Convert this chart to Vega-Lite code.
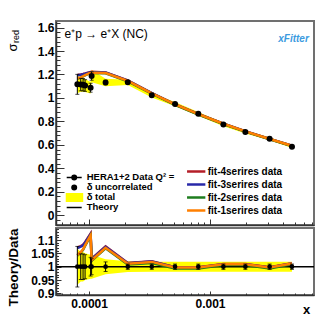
{
  "$schema": "https://vega.github.io/schema/vega-lite/v6.json",
  "padding": {"left": 5, "top": 15, "right": 0, "bottom": 0},
  "config": {
    "font": "Liberation Sans",
    "view": {"stroke": "#707070", "strokeWidth": 2},
    "axis": {"domainColor": "#333333", "domainWidth": 1.5, "tickColor": "#333333", "tickWidth": 1, "labelFont": "Liberation Sans", "labelFontWeight": "bold", "labelFontSize": 12, "labelColor": "black", "grid": false, "titleFont": "Liberation Sans", "titleColor": "black", "labelOverlap": false, "labelFlush": false, "labelBound": false},
    "legend": {"labelFont": "Liberation Sans", "labelColor": "black", "labelFontWeight": "bold"}
  },
  "datasets": {
    "pts": [
      {"x": 8.0e-5, "sigma": 1.116, "unc_lo": 1.031, "unc_hi": 1.201, "tot_lo": 1.040, "tot_hi": 1.192, "r_unc_lo": 0.924, "r_unc_hi": 1.076, "r_tot_lo": 0.932, "r_tot_hi": 1.068},
      {"x": 8.54e-5, "sigma": 1.114, "unc_lo": 1.061, "unc_hi": 1.167, "tot_lo": 1.053, "tot_hi": 1.175, "r_unc_lo": 0.952, "r_unc_hi": 1.048, "r_tot_lo": 0.945, "r_tot_hi": 1.055},
      {"x": 8.92e-5, "sigma": 1.113, "unc_lo": 1.060, "unc_hi": 1.166, "tot_lo": 1.052, "tot_hi": 1.174, "r_unc_lo": 0.952, "r_unc_hi": 1.048, "r_tot_lo": 0.945, "r_tot_hi": 1.055},
      {"x": 9.27e-5, "sigma": 1.106, "unc_lo": 1.056, "unc_hi": 1.156, "tot_lo": 1.051, "tot_hi": 1.161, "r_unc_lo": 0.955, "r_unc_hi": 1.045, "r_tot_lo": 0.950, "r_tot_hi": 1.050},
      {"x": 1.03e-4, "sigma": 1.087, "unc_lo": 1.049, "unc_hi": 1.125, "tot_lo": 1.038, "tot_hi": 1.136, "r_unc_lo": 0.965, "r_unc_hi": 1.035, "r_tot_lo": 0.955, "r_tot_hi": 1.045},
      {"x": 1.05e-4, "sigma": 1.187, "unc_lo": 1.151, "unc_hi": 1.223, "tot_lo": 1.134, "tot_hi": 1.240, "r_unc_lo": 0.970, "r_unc_hi": 1.030, "r_tot_lo": 0.955, "r_tot_hi": 1.045},
      {"x": 1.37e-4, "sigma": 1.132, "unc_lo": 1.112, "unc_hi": 1.152, "tot_lo": 1.100, "tot_hi": 1.164, "r_unc_lo": 0.982, "r_unc_hi": 1.018, "r_tot_lo": 0.972, "r_tot_hi": 1.028},
      {"x": 2.09e-4, "sigma": 1.133, "unc_lo": 1.122, "unc_hi": 1.144, "tot_lo": 1.110, "tot_hi": 1.156, "r_unc_lo": 0.990, "r_unc_hi": 1.010, "r_tot_lo": 0.980, "r_tot_hi": 1.020},
      {"x": 3.30e-4, "sigma": 1.022, "unc_lo": 1.012, "unc_hi": 1.032, "tot_lo": 1.003, "tot_hi": 1.041, "r_unc_lo": 0.990, "r_unc_hi": 1.010, "r_tot_lo": 0.981, "r_tot_hi": 1.019},
      {"x": 5.14e-4, "sigma": 0.948, "unc_lo": 0.939, "unc_hi": 0.957, "tot_lo": 0.930, "tot_hi": 0.966, "r_unc_lo": 0.990, "r_unc_hi": 1.010, "r_tot_lo": 0.981, "r_tot_hi": 1.019},
      {"x": 8.0e-4, "sigma": 0.865, "unc_lo": 0.856, "unc_hi": 0.874, "tot_lo": 0.849, "tot_hi": 0.881, "r_unc_lo": 0.990, "r_unc_hi": 1.010, "r_tot_lo": 0.981, "r_tot_hi": 1.019},
      {"x": 1.29e-3, "sigma": 0.773, "unc_lo": 0.765, "unc_hi": 0.781, "tot_lo": 0.758, "tot_hi": 0.788, "r_unc_lo": 0.990, "r_unc_hi": 1.010, "r_tot_lo": 0.981, "r_tot_hi": 1.019},
      {"x": 1.96e-3, "sigma": 0.709, "unc_lo": 0.702, "unc_hi": 0.716, "tot_lo": 0.696, "tot_hi": 0.722, "r_unc_lo": 0.990, "r_unc_hi": 1.010, "r_tot_lo": 0.981, "r_tot_hi": 1.019},
      {"x": 3.11e-3, "sigma": 0.652, "unc_lo": 0.645, "unc_hi": 0.659, "tot_lo": 0.640, "tot_hi": 0.664, "r_unc_lo": 0.990, "r_unc_hi": 1.010, "r_tot_lo": 0.981, "r_tot_hi": 1.019},
      {"x": 4.76e-3, "sigma": 0.585, "unc_lo": 0.579, "unc_hi": 0.591, "tot_lo": 0.574, "tot_hi": 0.596, "r_unc_lo": 0.990, "r_unc_hi": 1.010, "r_tot_lo": 0.981, "r_tot_hi": 1.019}
    ],
    "fits": [
      {"fit": "fit-4serires data", "x": 8.0e-5, "theory": 1.196, "ratio": 1.072},
      {"fit": "fit-4serires data", "x": 8.54e-5, "theory": 1.200, "ratio": 1.077},
      {"fit": "fit-4serires data", "x": 8.92e-5, "theory": 1.204, "ratio": 1.082},
      {"fit": "fit-4serires data", "x": 9.27e-5, "theory": 1.208, "ratio": 1.092},
      {"fit": "fit-4serires data", "x": 1.03e-4, "theory": 1.222, "ratio": 1.124},
      {"fit": "fit-4serires data", "x": 1.05e-4, "theory": 1.223, "ratio": 1.030},
      {"fit": "fit-4serires data", "x": 1.37e-4, "theory": 1.218, "ratio": 1.076},
      {"fit": "fit-4serires data", "x": 2.09e-4, "theory": 1.149, "ratio": 1.014},
      {"fit": "fit-4serires data", "x": 3.30e-4, "theory": 1.042, "ratio": 1.020},
      {"fit": "fit-4serires data", "x": 5.14e-4, "theory": 0.946, "ratio": 0.998},
      {"fit": "fit-4serires data", "x": 8.0e-4, "theory": 0.863, "ratio": 0.998},
      {"fit": "fit-4serires data", "x": 1.29e-3, "theory": 0.781, "ratio": 1.010},
      {"fit": "fit-4serires data", "x": 1.96e-3, "theory": 0.716, "ratio": 1.010},
      {"fit": "fit-4serires data", "x": 3.11e-3, "theory": 0.651, "ratio": 0.998},
      {"fit": "fit-4serires data", "x": 4.76e-3, "theory": 0.593, "ratio": 1.013},
      {"fit": "fit-3serires data", "x": 8.0e-5, "theory": 1.194, "ratio": 1.070},
      {"fit": "fit-3serires data", "x": 8.54e-5, "theory": 1.198, "ratio": 1.075},
      {"fit": "fit-3serires data", "x": 8.92e-5, "theory": 1.202, "ratio": 1.080},
      {"fit": "fit-3serires data", "x": 9.27e-5, "theory": 1.206, "ratio": 1.090},
      {"fit": "fit-3serires data", "x": 1.03e-4, "theory": 1.220, "ratio": 1.122},
      {"fit": "fit-3serires data", "x": 1.05e-4, "theory": 1.220, "ratio": 1.028},
      {"fit": "fit-3serires data", "x": 1.37e-4, "theory": 1.216, "ratio": 1.074},
      {"fit": "fit-3serires data", "x": 2.09e-4, "theory": 1.148, "ratio": 1.013},
      {"fit": "fit-3serires data", "x": 3.30e-4, "theory": 1.041, "ratio": 1.019},
      {"fit": "fit-3serires data", "x": 5.14e-4, "theory": 0.946, "ratio": 0.998},
      {"fit": "fit-3serires data", "x": 8.0e-4, "theory": 0.862, "ratio": 0.997},
      {"fit": "fit-3serires data", "x": 1.29e-3, "theory": 0.780, "ratio": 1.009},
      {"fit": "fit-3serires data", "x": 1.96e-3, "theory": 0.715, "ratio": 1.009},
      {"fit": "fit-3serires data", "x": 3.11e-3, "theory": 0.650, "ratio": 0.997},
      {"fit": "fit-3serires data", "x": 4.76e-3, "theory": 0.592, "ratio": 1.012},
      {"fit": "fit-2serires data", "x": 8.0e-5, "theory": 1.163, "ratio": 1.042},
      {"fit": "fit-2serires data", "x": 8.54e-5, "theory": 1.173, "ratio": 1.053},
      {"fit": "fit-2serires data", "x": 8.92e-5, "theory": 1.183, "ratio": 1.063},
      {"fit": "fit-2serires data", "x": 9.27e-5, "theory": 1.192, "ratio": 1.078},
      {"fit": "fit-2serires data", "x": 1.03e-4, "theory": 1.213, "ratio": 1.116},
      {"fit": "fit-2serires data", "x": 1.05e-4, "theory": 1.213, "ratio": 1.022},
      {"fit": "fit-2serires data", "x": 1.37e-4, "theory": 1.210, "ratio": 1.069},
      {"fit": "fit-2serires data", "x": 2.09e-4, "theory": 1.142, "ratio": 1.008},
      {"fit": "fit-2serires data", "x": 3.30e-4, "theory": 1.036, "ratio": 1.014},
      {"fit": "fit-2serires data", "x": 5.14e-4, "theory": 0.941, "ratio": 0.993},
      {"fit": "fit-2serires data", "x": 8.0e-4, "theory": 0.859, "ratio": 0.993},
      {"fit": "fit-2serires data", "x": 1.29e-3, "theory": 0.778, "ratio": 1.006},
      {"fit": "fit-2serires data", "x": 1.96e-3, "theory": 0.713, "ratio": 1.006},
      {"fit": "fit-2serires data", "x": 3.11e-3, "theory": 0.647, "ratio": 0.993},
      {"fit": "fit-2serires data", "x": 4.76e-3, "theory": 0.590, "ratio": 1.009},
      {"fit": "fit-1serires data", "x": 8.0e-5, "theory": 1.165, "ratio": 1.044},
      {"fit": "fit-1serires data", "x": 8.54e-5, "theory": 1.175, "ratio": 1.055},
      {"fit": "fit-1serires data", "x": 8.92e-5, "theory": 1.185, "ratio": 1.065},
      {"fit": "fit-1serires data", "x": 9.27e-5, "theory": 1.194, "ratio": 1.080},
      {"fit": "fit-1serires data", "x": 1.03e-4, "theory": 1.215, "ratio": 1.118},
      {"fit": "fit-1serires data", "x": 1.05e-4, "theory": 1.215, "ratio": 1.024},
      {"fit": "fit-1serires data", "x": 1.37e-4, "theory": 1.212, "ratio": 1.071},
      {"fit": "fit-1serires data", "x": 2.09e-4, "theory": 1.145, "ratio": 1.011},
      {"fit": "fit-1serires data", "x": 3.30e-4, "theory": 1.040, "ratio": 1.018},
      {"fit": "fit-1serires data", "x": 5.14e-4, "theory": 0.945, "ratio": 0.997},
      {"fit": "fit-1serires data", "x": 8.0e-4, "theory": 0.862, "ratio": 0.997},
      {"fit": "fit-1serires data", "x": 1.29e-3, "theory": 0.780, "ratio": 1.009},
      {"fit": "fit-1serires data", "x": 1.96e-3, "theory": 0.715, "ratio": 1.009},
      {"fit": "fit-1serires data", "x": 3.11e-3, "theory": 0.650, "ratio": 0.997},
      {"fit": "fit-1serires data", "x": 4.76e-3, "theory": 0.592, "ratio": 1.012}
    ]
  },
  "bounds": "flush",
  "spacing": 3,
  "resolve": {"scale": {"color": "independent", "shape": "independent", "fill": "independent", "stroke": "independent"}, "legend": {"color": "independent", "shape": "independent", "fill": "independent", "stroke": "independent"}},
  "vconcat": [
    {
      "width": 258,
      "height": 204,
      "resolve": {"axis": {"y": "independent"}},
      "encoding": {
        "x": {"field": "x", "type": "quantitative",
          "scale": {"type": "log", "domain": [5.33e-5, 7.24e-3], "nice": false},
          "axis": {"values": [6e-5, 7e-5, 8e-5, 9e-5, 1e-4, 2e-4, 3e-4, 4e-4, 5e-4, 6e-4, 7e-4, 8e-4, 9e-4, 1e-3, 2e-3, 3e-3, 4e-3, 5e-3, 6e-3, 7e-3],
            "labels": false,
            "tickSize": {"condition": {"test": "datum.value == 0.0001 || datum.value == 0.001", "value": -6}, "value": -3},
            "title": "xFitter",
            "titleX": 237, "titleY": -187, "titleAngle": 0, "titleAlign": "center", "titleBaseline": "middle",
            "titleFontSize": 10, "titleFontStyle": "italic", "titleFontWeight": "bold", "titleColor": "#3c9be0"}}
      },
      "layer": [
        {"data": {"name": "pts"}, "mark": {"type": "area", "color": "#ffff00", "opacity": 1},
          "encoding": {
            "y": {"field": "tot_lo", "type": "quantitative",
              "scale": {"domain": [-0.083, 1.656], "nice": false, "zero": false},
              "axis": {"values": [-0.08, -0.04, 0, 0.04, 0.08, 0.12, 0.16, 0.2, 0.24, 0.28, 0.32, 0.36, 0.4, 0.44, 0.48, 0.52, 0.56, 0.6, 0.64, 0.68, 0.72, 0.76, 0.8, 0.84, 0.88, 0.92, 0.96, 1, 1.04, 1.08, 1.12, 1.16, 1.2, 1.24, 1.28, 1.32, 1.36, 1.4, 1.44, 1.48, 1.52, 1.56, 1.6, 1.64],
                "labelExpr": "abs(datum.value*5 - round(datum.value*5)) < 0.01 ? format(datum.value, '~g') : ''",
                "labelOverlap": false,
                "tickSize": {"condition": {"test": "abs(datum.value*5 - round(datum.value*5)) < 0.01", "value": -8}, "value": -4},
                "labelPadding": 10,
                "title": "σ",
                "titleX": -39.7, "titleY": 30, "titleAngle": -90, "titleAlign": "left", "titleBaseline": "alphabetic", "titleFontSize": 13, "titleFontWeight": "normal"}},
            "y2": {"field": "tot_hi"}
          }},
        {"data": {"name": "fits"}, "mark": {"type": "line", "strokeWidth": 2.5},
          "encoding": {
            "y": {"field": "theory", "type": "quantitative",
              "scale": {"domain": [-0.083, 1.656], "nice": false, "zero": false},
              "axis": {"orient": "left", "domain": false, "ticks": false, "labels": false, "title": "red",
                "titleX": -37.5, "titleY": 21.5, "titleAngle": -90, "titleAlign": "left", "titleBaseline": "alphabetic", "titleFontSize": 9, "titleFontWeight": "normal"}},
            "color": {"field": "fit", "type": "nominal",
              "scale": {"domain": ["fit-4serires data", "fit-3serires data", "fit-2serires data", "fit-1serires data"], "range": ["#b41e28", "#2828a8", "#1e7d1e", "#ff7f00"]},
              "legend": {"title": null, "orient": "none", "legendX": 129.7, "legendY": 144.5, "symbolType": "stroke", "symbolSize": 335, "symbolStrokeWidth": 2.5, "labelFontSize": 10, "labelOffset": 1, "rowPadding": 0, "clipHeight": 12.1, "padding": 0}}
          }},
        {"data": {"name": "pts"}, "mark": {"type": "errorbar", "color": "black", "thickness": 1, "ticks": {"size": 4, "color": "black", "thickness": 1}},
          "encoding": {
            "y": {"field": "unc_lo", "type": "quantitative",
              "scale": {"domain": [-0.083, 1.656], "nice": false, "zero": false}, "axis": null},
            "y2": {"field": "unc_hi"}
          }},
        {"data": {"name": "pts"}, "mark": {"type": "point", "filled": true, "size": 225, "strokeWidth": 1.5, "opacity": 1},
          "encoding": {
            "y": {"field": "sigma", "type": "quantitative",
              "scale": {"domain": [-0.083, 1.656], "nice": false, "zero": false},
              "axis": {"orient": "left", "domain": false, "ticks": false, "labels": false, "title": "e⁺p → e⁺X (NC)",
                "titleX": 8, "titleY": 16.3, "titleAngle": 0, "titleAlign": "left", "titleBaseline": "alphabetic", "titleFontSize": 12, "titleFontWeight": "normal"}},
            "shape": {"datum": "δ uncorrelated",
              "scale": {"domain": ["HERA1+2 Data Q² =", "δ uncorrelated", "δ total", "Theory"],
                "range": ["M-1,0H1M-0.3,0A0.3,0.3,0,1,0,0.3,0A0.3,0.3,0,1,0,-0.3,0", "M-0.3,0A0.3,0.3,0,1,0,0.3,0A0.3,0.3,0,1,0,-0.3,0", "M-1.1,-0.49H1.1V0.49H-1.1Z", "M-1,0H1"]},
              "legend": {"title": null, "orient": "none", "legendX": 9.7, "legendY": 152, "symbolSize": 225, "symbolStrokeWidth": 1.5, "labelFontSize": 9.5, "labelOffset": 4, "rowPadding": 0, "clipHeight": 8.9, "padding": 0}},
            "fill": {"datum": "δ uncorrelated",
              "scale": {"domain": ["HERA1+2 Data Q² =", "δ uncorrelated", "δ total", "Theory"], "range": ["black", "black", "#ffff00", "black"]},
              "legend": {"title": null, "orient": "none", "legendX": 9.7, "legendY": 152, "symbolSize": 225, "symbolStrokeWidth": 1.5, "labelFontSize": 9.5, "labelOffset": 4, "rowPadding": 0, "clipHeight": 8.9, "padding": 0}},
            "stroke": {"datum": "δ uncorrelated",
              "scale": {"domain": ["HERA1+2 Data Q² =", "δ uncorrelated", "δ total", "Theory"], "range": ["black", "black", "#ffff00", "black"]},
              "legend": {"title": null, "orient": "none", "legendX": 9.7, "legendY": 152, "symbolSize": 225, "symbolStrokeWidth": 1.5, "labelFontSize": 9.5, "labelOffset": 4, "rowPadding": 0, "clipHeight": 8.9, "padding": 0}}
          }}
      ]
    },
    {
      "width": 258,
      "height": 67,
      "resolve": {"axis": {"x": "independent", "y": "independent"}},
      "layer": [
        {"data": {"name": "pts"}, "mark": {"type": "area", "color": "#ffff00", "opacity": 1},
          "encoding": {
            "x": {"field": "x", "type": "quantitative", "title": "x",
              "scale": {"type": "log", "domain": [5.33e-5, 7.24e-3], "nice": false},
              "axis": {"values": [6e-5, 7e-5, 8e-5, 9e-5, 1e-4, 2e-4, 3e-4, 4e-4, 5e-4, 6e-4, 7e-4, 8e-4, 9e-4, 1e-3, 2e-3, 3e-3, 4e-3, 5e-3, 6e-3, 7e-3],
                "labelExpr": "datum.value == 0.0001 ? '0.0001' : datum.value == 0.001 ? '0.001' : ''",
                "labelOverlap": false,
                "tickSize": {"condition": {"test": "datum.value == 0.0001 || datum.value == 0.001", "value": -4}, "value": -2},
                "labelPadding": 7,
                "titleX": 250, "titleY": 14, "titleAlign": "center", "titleBaseline": "middle", "titleFontSize": 13, "titleFontWeight": "bold"}},
            "y": {"field": "r_tot_lo", "type": "quantitative", "title": "Theory/Data",
              "scale": {"domain": [0.894, 1.145], "nice": false, "zero": false},
              "axis": {"values": [0.9, 0.91, 0.92, 0.93, 0.94, 0.95, 0.96, 0.97, 0.98, 0.99, 1, 1.01, 1.02, 1.03, 1.04, 1.05, 1.06, 1.07, 1.08, 1.09, 1.1, 1.11, 1.12, 1.13, 1.14],
                "labelExpr": "abs(datum.value*20 - round(datum.value*20)) < 0.01 ? format(datum.value, '~g') : ''",
                "labelOverlap": false,
                "tickSize": {"condition": {"test": "abs(datum.value*20 - round(datum.value*20)) < 0.01", "value": -5}, "value": -2.5},
                "labelPadding": 7,
                "titleX": -38.7, "titleY": 78, "titleAngle": -90, "titleAlign": "left", "titleBaseline": "alphabetic", "titleFontSize": 13.5, "titleFontWeight": "bold"}},
            "y2": {"field": "r_tot_hi"}
          }},
        {"data": {"values": [{}]}, "mark": {"type": "rule", "color": "black", "strokeWidth": 1.5},
          "encoding": {"y": {"datum": 1, "type": "quantitative", "scale": {"domain": [0.894, 1.145], "nice": false, "zero": false}, "axis": null}}},
        {"data": {"name": "fits"}, "mark": {"type": "line", "strokeWidth": 2.5},
          "encoding": {
            "x": {"field": "x", "type": "quantitative", "scale": {"type": "log", "domain": [5.33e-5, 7.24e-3], "nice": false}, "axis": null},
            "y": {"field": "ratio", "type": "quantitative", "scale": {"domain": [0.894, 1.145], "nice": false, "zero": false}, "axis": null},
            "color": {"field": "fit", "type": "nominal",
              "scale": {"domain": ["fit-4serires data", "fit-3serires data", "fit-2serires data", "fit-1serires data"], "range": ["#b41e28", "#2828a8", "#1e7d1e", "#ff7f00"]},
              "legend": null}
          }},
        {"data": {"name": "pts"}, "mark": {"type": "errorbar", "color": "black", "thickness": 1, "ticks": {"size": 4, "color": "black", "thickness": 1}},
          "encoding": {
            "x": {"field": "x", "type": "quantitative", "scale": {"type": "log", "domain": [5.33e-5, 7.24e-3], "nice": false}, "axis": null},
            "y": {"field": "r_unc_lo", "type": "quantitative", "scale": {"domain": [0.894, 1.145], "nice": false, "zero": false}, "axis": null},
            "y2": {"field": "r_unc_hi"}
          }},
        {"data": {"name": "pts"}, "mark": {"type": "point", "filled": true, "shape": "circle", "size": 22, "color": "black", "opacity": 1},
          "encoding": {
            "x": {"field": "x", "type": "quantitative", "scale": {"type": "log", "domain": [5.33e-5, 7.24e-3], "nice": false}, "axis": null},
            "y": {"datum": 1, "type": "quantitative", "scale": {"domain": [0.894, 1.145], "nice": false, "zero": false}, "axis": null}
          }}
      ]
    }
  ]
}
